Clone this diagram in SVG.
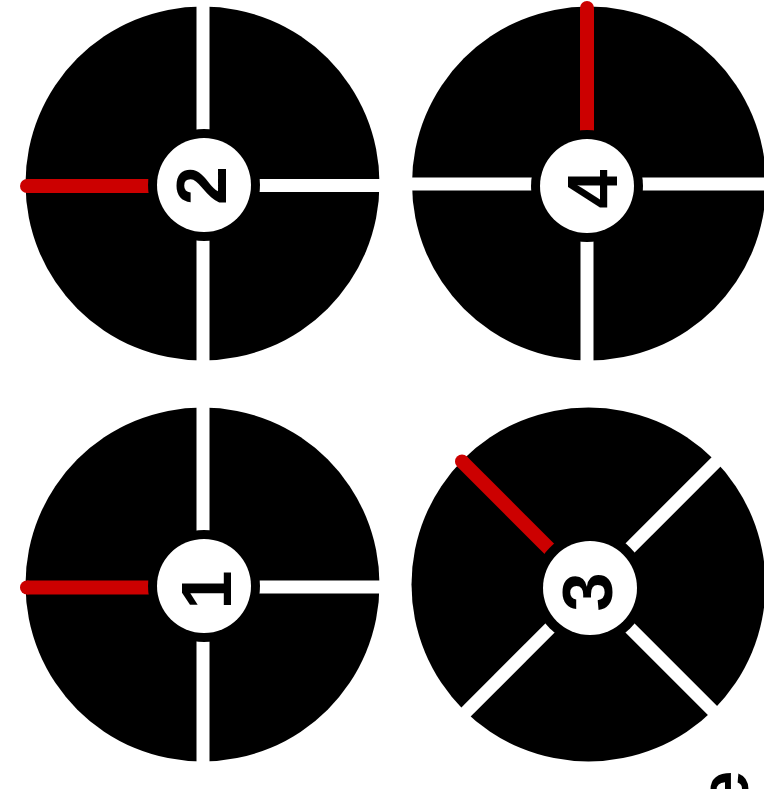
<svg xmlns="http://www.w3.org/2000/svg" width="764" height="789" viewBox="0 0 764 789">
  <style>
    .disc { fill: #000000; }
    .div { stroke: #ffffff; stroke-width: 13; fill: none; }
    .red { stroke: #cc0000; stroke-width: 14; fill: none; stroke-linecap: butt; }
    .redcap { fill: #cc0000; }
    .ring { fill: #000000; }
    .hub { fill: #ffffff; }
    .lbl { font-family: "Liberation Sans", Arial, sans-serif; font-weight: bold; font-size: 70px; fill: #000000; text-anchor: middle; }
  </style>
  <rect width="764" height="789" fill="#ffffff"/>

  <g id="dial-2">
    <circle class="disc" cx="202.5" cy="183.5" r="177"/>
    <line class="div" x1="203" y1="-5" x2="203" y2="370"/>
    <line class="div" x1="204" y1="185.5" x2="388" y2="185.5"/>
    <line class="red" x1="27" y1="186" x2="160" y2="186"/>
    <circle class="redcap" cx="27" cy="186" r="7"/>
    <circle class="ring" cx="204" cy="185" r="56"/>
    <circle class="hub" cx="204" cy="185" r="47"/>
    <text class="lbl" transform="translate(226,185.5) rotate(-90)" x="0" y="0">2</text>
  </g>

  <g id="dial-4">
    <circle class="disc" cx="589" cy="183.5" r="177"/>
    <line class="div" x1="404" y1="184" x2="770" y2="184"/>
    <line class="div" x1="587" y1="186" x2="587" y2="370"/>
    <line class="red" x1="587" y1="8" x2="587" y2="150"/>
    <circle class="redcap" cx="587" cy="8" r="7"/>
    <circle class="ring" cx="587" cy="186" r="56"/>
    <circle class="hub" cx="587" cy="186" r="47"/>
    <text class="lbl" transform="translate(617,189) rotate(-90)" x="0" y="0">4</text>
  </g>

  <g id="dial-1">
    <circle class="disc" cx="202.5" cy="584.5" r="177"/>
    <line class="div" x1="203" y1="398" x2="203" y2="775"/>
    <line class="div" x1="204" y1="587" x2="388" y2="587"/>
    <line class="red" x1="27" y1="587.5" x2="160" y2="587.5"/>
    <circle class="redcap" cx="27" cy="587.5" r="7"/>
    <circle class="ring" cx="204" cy="586" r="56"/>
    <circle class="hub" cx="204" cy="586" r="47"/>
    <text class="lbl" transform="translate(231,590) rotate(-90)" x="0" y="0">1</text>
  </g>

  <g id="dial-3">
    <circle class="disc" cx="588.5" cy="584.5" r="177"/>
    <line class="div" x1="590" y1="588" x2="735" y2="443"/>
    <line class="div" x1="590" y1="588" x2="735" y2="733"/>
    <line class="div" x1="590" y1="588" x2="445" y2="733"/>
    <line class="red" x1="462" y1="461.5" x2="560" y2="559.5"/>
    <circle class="redcap" cx="462" cy="461.5" r="7"/>
    <circle class="ring" cx="590" cy="588" r="57"/>
    <circle class="hub" cx="590" cy="588" r="47"/>
    <text class="lbl" transform="translate(612,592) rotate(-90)" x="0" y="0">3</text>
  </g>

  <g id="corner-label">
    <text class="lbl" transform="translate(748,790) rotate(-90)" x="0" y="0">e</text>
  </g>
</svg>
